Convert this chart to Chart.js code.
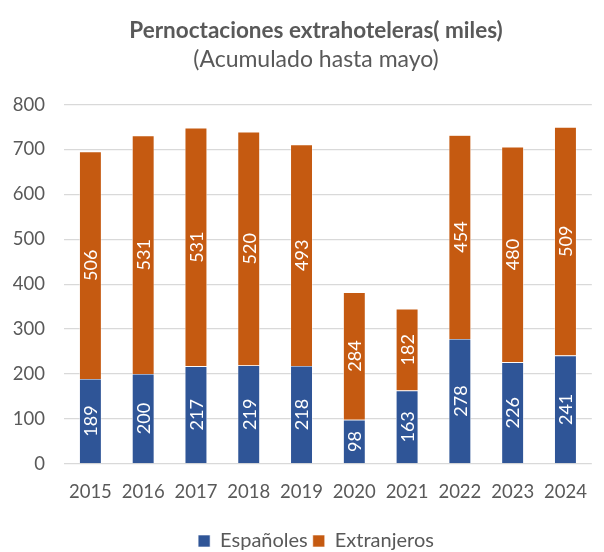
<!DOCTYPE html>
<html>
<head>
<meta charset="utf-8">
<script src="https://cdn.jsdelivr.net/npm/chart.js@4"></script>
<style>
  html, body { margin: 0; padding: 0; background: #fff; }
  #wrap { width: 604px; height: 552px; }
</style>
</head>
<body>
<div id="wrap"><canvas id="chart" width="604" height="552"></canvas></div>
<script>
// ---------- Data ----------
const years = ["2015", "2016", "2017", "2018", "2019", "2020", "2021", "2022", "2023", "2024"];
const espanoles = [189, 200, 217, 219, 218, 98, 163, 278, 226, 241];
const extranjeros = [506, 531, 531, 520, 493, 284, 182, 454, 480, 509];
const yTicks = [0, 100, 200, 300, 400, 500, 600, 700, 800];

const FONT = "Lato, 'Open Sans', sans-serif";
const GREY = "#595959";

// vertical value labels inside each segment
const barLabels = {
  id: "barLabels",
  afterDatasetsDraw(chart) {
    const { ctx } = chart;
    ctx.save();
    ctx.fillStyle = "#ffffff";
    ctx.font = "18px " + FONT;
    ctx.textAlign = "center";
    ctx.textBaseline = "middle";
    chart.data.datasets.forEach((ds, i) => {
      chart.getDatasetMeta(i).data.forEach((bar, j) => {
        const mid = (bar.y + bar.base) / 2;
        ctx.save();
        ctx.translate(bar.x, mid);
        ctx.rotate(-Math.PI / 2);
        ctx.fillText(String(ds.data[j]), 0, 1);
        ctx.restore();
      });
    });
    ctx.restore();
  },
};

const ctx = document.getElementById("chart").getContext("2d");
new Chart(ctx, {
  type: "bar",
  data: {
    labels: years,
    datasets: [
      {
        label: "Españoles",
        data: espanoles,
        backgroundColor: "#2F5597",
        borderColor: "#ffffff",
        borderWidth: 0.6,
        categoryPercentage: 1,
        barPercentage: 0.42,
      },
      {
        label: "Extranjeros",
        data: extranjeros,
        backgroundColor: "#C55A11",
        borderColor: "#ffffff",
        borderWidth: 0.6,
        categoryPercentage: 1,
        barPercentage: 0.42,
      },
    ],
  },
  options: {
    responsive: false,
    animation: false,
    layout: { padding: { left: 30, right: 2, top: 0, bottom: -9 } },
    plugins: {
      title: {
        display: true,
        text: "Pernoctaciones extrahoteleras( miles)",
        color: GREY,
        font: { family: FONT, size: 22.5, weight: "bold" },
        padding: { top: 17, bottom: 2 },
      },
      subtitle: {
        display: true,
        text: "(Acumulado hasta mayo)",
        color: GREY,
        font: { family: FONT, size: 23 },
        padding: { top: 0, bottom: 31 },
      },
      legend: {
        position: "bottom",
        labels: {
          color: GREY,
          font: { family: FONT, size: 20 },
          boxWidth: 12,
          boxHeight: 12,
          padding: 5,
        },
      },
      tooltip: { enabled: false },
    },
    scales: {
      x: {
        stacked: true,
        grid: { display: false, drawTicks: false },
        border: { display: false },
        ticks: { color: GREY, font: { family: FONT, size: 18.5 }, padding: 17 },
        afterFit: (axis) => { axis.height += 6; },
      },
      y: {
        stacked: true,
        min: 0,
        max: 800,
        afterBuildTicks: (axis) => { axis.ticks = yTicks.map((v) => ({ value: v })); },
        afterFit: (axis) => {
          axis.width = 34;
          axis._computeLabelArea = () => undefined; // labels reach into the left padding
        },
        grid: { color: "#d9d9d9", lineWidth: 1.3, drawTicks: false },
        border: { display: false },
        ticks: { color: GREY, font: { family: FONT, size: 18.5 }, padding: 19 },
      },
    },
  },
  plugins: [barLabels],
});
</script>
</body>
</html>
